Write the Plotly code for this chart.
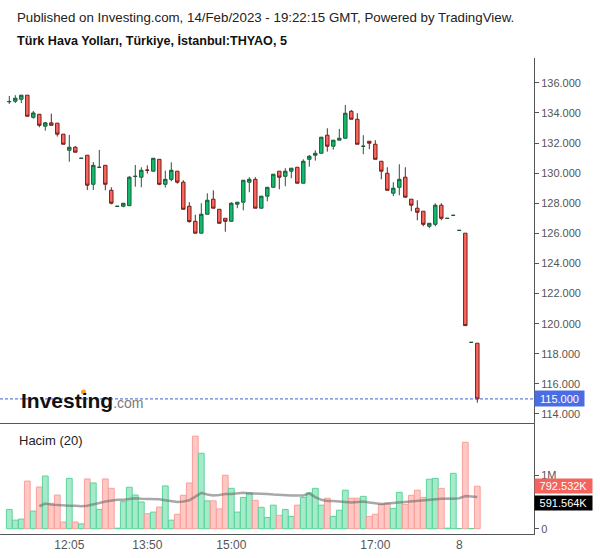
import plotly.graph_objects as go
import pandas as pd

# ---------------- data ----------------
sessions = [("2023-02-07 11:15", 18), ("2023-02-07 13:25", 57), ("2023-02-08 10:00", 4)]
times = []
for start, n in sessions:
    times += [t.strftime("%m-%d %H:%M") for t in pd.date_range(start, periods=n, freq="5min")]

opens = [134.74, 134.78, 134.91, 135.18, 133.71, 133.91, 133.12, 133.34, 133.32, 132.59,
         131.52, 131.72, 130.98, 131.19, 129.26, 130.38, 130.52, 128.86, 127.79, 127.80,
         127.84, 129.78, 129.73, 130.20, 130.13, 130.92, 129.26, 129.59, 130.13, 129.40,
         127.80, 126.80, 126.01, 127.27, 128.27, 127.60, 127.00, 126.80, 127.94, 128.07,
         129.40, 129.59, 127.67, 128.47, 129.06, 130.13, 129.79, 130.13, 130.39, 129.33,
         130.92, 131.19, 131.32, 132.52, 131.79, 132.19, 132.32, 134.11, 133.58, 131.78,
         132.12, 131.92, 130.79, 129.99, 128.67, 129.06, 129.73, 128.27, 127.67, 127.47,
         126.47, 126.60, 127.87, 126.99, 127.19, 126.19, 126.01, 118.75, 118.70]
highs = [135.13, 135.18, 135.18, 135.18, 134.13, 133.91, 133.40, 133.95, 133.32, 132.59,
         132.54, 131.80, 130.99, 131.19, 130.74, 131.54, 130.52, 129.06, 127.80, 128.00,
         129.80, 130.54, 130.39, 130.52, 130.99, 130.92, 130.17, 130.72, 130.13, 129.53,
         128.07, 127.24, 128.00, 128.66, 128.86, 127.60, 127.00, 128.07, 128.07, 129.53,
         129.73, 129.73, 128.47, 129.06, 129.93, 130.13, 130.33, 130.33, 130.39, 130.92,
         131.21, 131.52, 132.39, 132.98, 132.19, 132.94, 134.53, 134.20, 133.98, 132.52,
         132.12, 132.19, 130.79, 130.39, 129.40, 130.59, 130.39, 128.27, 128.20, 127.47,
         126.67, 128.00, 128.00, 127.00, 127.20, 126.20, 126.01, 118.76, 118.70]
lows = [134.60, 134.66, 134.65, 133.78, 133.62, 133.05, 132.82, 133.18, 132.43, 131.92,
        130.76, 131.39, 130.98, 128.88, 128.88, 130.38, 128.86, 127.93, 127.79, 127.73,
        127.84, 129.10, 129.06, 129.97, 130.13, 129.20, 129.04, 129.46, 129.30, 127.60,
        126.71, 126.01, 126.01, 127.27, 127.67, 126.67, 126.11, 126.80, 127.67, 127.53,
        128.73, 127.67, 127.67, 128.13, 129.06, 128.93, 129.13, 129.66, 129.33, 129.33,
        130.43, 130.83, 131.32, 131.43, 131.56, 132.19, 132.32, 133.58, 131.92, 131.26,
        131.59, 130.92, 129.59, 128.86, 128.47, 128.53, 128.40, 127.47, 126.87, 126.47,
        126.34, 126.47, 126.87, 126.99, 127.19, 126.19, 119.87, 118.75, 114.75]
closes = [134.76, 134.98, 135.18, 133.78, 134.00, 133.18, 133.34, 133.18, 132.59, 131.92,
          131.72, 131.39, 130.99, 129.20, 130.52, 130.39, 129.26, 128.00, 127.80, 128.00,
          129.73, 129.79, 130.19, 130.19, 130.99, 129.26, 129.59, 130.19, 129.40, 127.60,
          126.78, 126.01, 127.27, 128.20, 127.67, 126.67, 126.80, 128.00, 128.07, 129.53,
          129.59, 127.67, 128.47, 129.06, 129.93, 129.73, 130.13, 130.33, 129.33, 130.79,
          131.12, 131.32, 132.39, 131.79, 132.19, 132.32, 133.98, 133.58, 131.92, 131.79,
          131.99, 130.92, 130.13, 128.86, 129.00, 129.59, 128.40, 127.87, 127.40, 126.60,
          126.67, 127.87, 127.00, 127.00, 127.20, 126.20, 119.87, 118.76, 115.00]

volumes_m = [0.36, 0.16, 0.18, 0.89, 0.33, 0.78, 0.985, 0.475, 0.63, 0.125,
             0.94, 0.125, 0.09, 0.93, 0.855, 0.36, 0.93, 0.755, 0.01, 0.505,
             0.775, 0.63, 0.50, 0.28, 0.31, 0.405, 0.80, 0.16, 0.27, 0.625,
             0.855, 1.73, 1.41, 0.52, 0.52, 0.37, 1.00, 0.755, 0.31, 0.585,
             0.67, 0.53, 0.40, 0.21, 0.44, 0.25, 0.36, 0.23, 0.44, 0.585,
             0.67, 0.755, 0.44, 0.57, 0.23, 0.345, 0.72, 0.57, 0.57, 0.605,
             0.23, 0.27, 0.455, 0.475, 0.38, 0.68, 0.455, 0.625, 0.72, 0.585,
             0.925, 0.94, 0.755, 0.01, 1.035, 0.003, 1.615, 0.003, 0.792532]

vol_ma_m = [None] * 5 + [
    0.42, 0.47, 0.45, 0.44, 0.44, 0.43, 0.43, 0.42, 0.43, 0.45,
    0.48, 0.51, 0.53, 0.54, 0.54, 0.55, 0.57, 0.56, 0.56, 0.55,
    0.55, 0.53, 0.52, 0.50, 0.51, 0.53, 0.60, 0.67, 0.64, 0.62,
    0.63, 0.65, 0.65, 0.66, 0.67, 0.66, 0.66, 0.65, 0.65, 0.64,
    0.63, 0.62, 0.62, 0.62, 0.62, 0.66, 0.59, 0.54, 0.52, 0.52,
    0.51, 0.50, 0.49, 0.50, 0.51, 0.49, 0.47, 0.46, 0.47, 0.48,
    0.50, 0.51, 0.52, 0.53, 0.54, 0.55, 0.55, 0.56, 0.565, 0.56,
    0.57, 0.61, 0.60, 0.591564]

tick_times = ["02-07 12:05", "02-07 13:50", "02-07 15:00", "02-07 17:00", "02-08 10:00"]
tick_labels = ["12:05", "13:50", "15:00", "17:00", "8"]
price_ticks = [114 + 2 * i for i in range(12)]

volumes = [v * 1e6 for v in volumes_m]
vol_ma = [None if v is None else v * 1e6 for v in vol_ma_m]

# ---------------- layout geometry ----------------
W, H = 600, 558
def py(p):  # pixel row -> paper y
    return 1 - p / H

FONT = "Liberation Sans, Arial, sans-serif"
AX = "#555555"
GREEN_FILL, GREEN_LINE = "#0dbf6c", "#21583a"
RED_FILL, RED_LINE = "#ff675e", "#6e1f1b"

vol_colors = ["#a6ebc9" if c >= o else "#ffc8c4" for o, c in zip(opens, closes)]
vol_lines = ["#5cd39c" if c >= o else "#f7a19b" for o, c in zip(opens, closes)]

fig = go.Figure()
fig.add_trace(go.Candlestick(
    x=times, open=opens, high=highs, low=lows, close=closes,
    increasing=dict(fillcolor=GREEN_FILL, line=dict(color=GREEN_LINE, width=1)),
    decreasing=dict(fillcolor=RED_FILL, line=dict(color=RED_LINE, width=1)),
    xaxis="x", yaxis="y", showlegend=False, hoverinfo="skip"))
fig.add_trace(go.Bar(
    x=times, y=volumes, marker=dict(color=vol_colors, line=dict(color=vol_lines, width=1)),
    xaxis="x2", yaxis="y2", showlegend=False, hoverinfo="skip"))
fig.add_trace(go.Scatter(
    x=times, y=vol_ma, mode="lines", line=dict(color="rgba(110,110,110,0.6)", width=2.5),
    xaxis="x2", yaxis="y2", showlegend=False, hoverinfo="skip"))

xr = [-1.55, 87.45]
xdom = [0, 534 / W]
fig.update_layout(
    width=W, height=H, margin=dict(l=0, r=0, t=0, b=0),
    paper_bgcolor="white", plot_bgcolor="white",
    font=dict(family=FONT, color=AX),
    boxgap=0.18, bargap=0.04,
    xaxis=dict(type="category", domain=xdom, range=xr, anchor="y",
               showticklabels=False, ticks="", showgrid=False, zeroline=False,
               showline=True, linecolor=AX, linewidth=1, rangeslider=dict(visible=False)),
    yaxis=dict(domain=[py(423), py(58)], range=[113.40, 137.65], side="right", anchor="x",
               tickvals=price_ticks, tickformat=".3f", ticks="outside", ticklen=4,
               tickcolor=AX, tickfont=dict(size=11, color=AX), showgrid=False,
               zeroline=False, showline=True, linecolor=AX, linewidth=1, automargin=False),
    xaxis2=dict(type="category", domain=xdom, range=xr, anchor="y2",
                tickvals=tick_times, ticktext=tick_labels, ticks="",
                tickfont=dict(size=12, color=AX), showgrid=False, zeroline=False,
                showline=True, linecolor=AX, linewidth=1, automargin=False),
    yaxis2=dict(domain=[py(534), py(423)], range=[-0.099e6, 1.976e6], side="right",
                anchor="x2", tickvals=[0, 1e6], ticktext=["0", "1M"], ticks="outside",
                ticklen=4, tickcolor=AX, tickfont=dict(size=11, color=AX), showgrid=False,
                zeroline=False, showline=True, linecolor=AX, linewidth=1, automargin=False),
)

# last price dotted line
fig.add_shape(type="line", xref="x domain", yref="y", x0=0, x1=1, y0=closes[-1], y1=closes[-1],
              line=dict(color="#3b5fd6", width=1, dash="3px,2px"))

ann = []
ann.append(dict(text="Published on Investing.com, 14/Feb/2023 - 19:22:15 GMT, Powered by TradingView.",
                x=15 / W, y=py(17), xref="paper", yref="paper", xanchor="left", yanchor="middle",
                showarrow=False, font=dict(size=13.3, color="#222222", family=FONT)))
ann.append(dict(text="<b>Türk Hava Yolları, Türkiye, İstanbul:THYAO, 5</b>",
                x=15 / W, y=py(40), xref="paper", yref="paper", xanchor="left", yanchor="middle",
                showarrow=False, font=dict(size=12.6, color="#111111", family=FONT)))
ann.append(dict(text="Hacim (20)", x=17 / W, y=py(440), xref="paper", yref="paper",
                xanchor="left", yanchor="middle", showarrow=False,
                font=dict(size=13, color="#222222", family=FONT)))
ann.append(dict(text="<b>Investing</b><span style='font-size:14px;color:#7a7a7a'>.com</span>",
                x=19 / W, y=py(400), xref="paper", yref="paper", xanchor="left", yanchor="middle",
                showarrow=False, font=dict(size=21, color="#111111", family=FONT)))
ann.append(dict(text=f"{closes[-1]:.3f}", x=534 / W, y=closes[-1], xref="paper", yref="y",
                xanchor="left", yanchor="middle", showarrow=False, bgcolor="#4a6de3",
                width=45, height=11, borderpad=2, align="center",
                font=dict(size=11, color="white", family=FONT)))
ann.append(dict(text=f"{volumes[-1] / 1000:.3f}K", x=534 / W, y=volumes[-1], xref="paper", yref="y2",
                xanchor="left", yanchor="middle", showarrow=False, bgcolor="#f2645d",
                width=53, height=10, borderpad=2, align="center",
                font=dict(size=11, color="white", family=FONT)))
ann.append(dict(text=f"{vol_ma[-1] / 1000:.3f}K", x=534 / W, y=vol_ma[-1], xref="paper", yref="y2",
                xanchor="left", yanchor="middle", showarrow=False, bgcolor="#000000",
                width=53, height=10, borderpad=2, align="center", yshift=-6,
                font=dict(size=11, color="white", family=FONT)))
fig.update_layout(annotations=ann)

# orange dot of the logo
fig.add_shape(type="circle", xref="paper", yref="paper",
              x0=81 / W, x1=86 / W, y0=py(394.5), y1=py(389.5),
              fillcolor="#f7a823", line=dict(width=0))

fig.write_html("out.html")
